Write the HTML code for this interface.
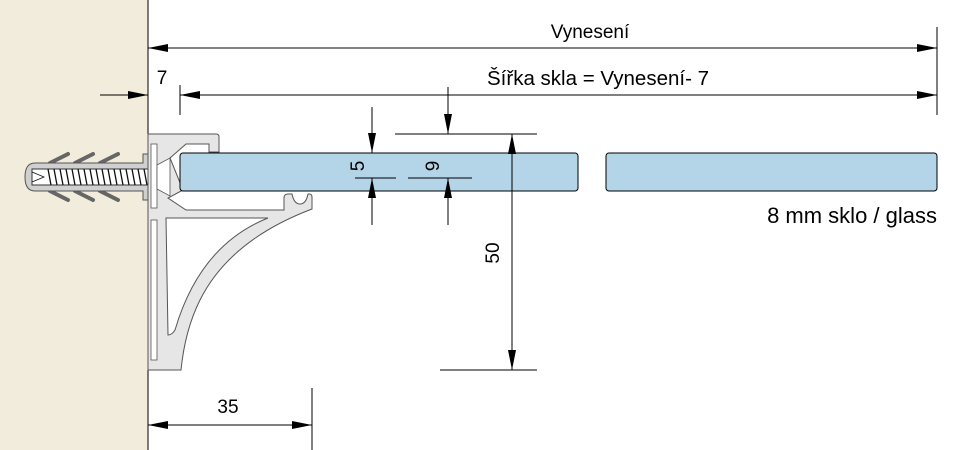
<!DOCTYPE html>
<html><head><meta charset="utf-8"><style>
html,body{margin:0;padding:0;background:#fff}
svg{display:block}
text{font-family:"Liberation Sans","DejaVu Sans",sans-serif;fill:#000}
</style></head><body>
<svg width="970" height="450" viewBox="0 0 970 450" xmlns="http://www.w3.org/2000/svg">
<defs>
<marker id="b" viewBox="0 0 20 8" refX="20" refY="4" markerWidth="20" markerHeight="8" markerUnits="userSpaceOnUse" orient="auto-start-reverse">
<path d="M0,0 L20,4 L0,8 z" fill="#000"/></marker>
</defs>
<rect x="0" y="0" width="148" height="450" fill="#f2ecdc"/>
<line x1="148" y1="0" x2="148" y2="450" stroke="#000" stroke-width="1"/>

<!-- anchor -->
<g stroke="#555" stroke-width="1" fill="#d0d0d0">
<path d="M50,163 L68,154 M75,163 L93,154 M100,163 L118,154 M50,191 L68,200 M75,191 L93,200 M100,191 L118,200" stroke="#666" stroke-width="4" stroke-linecap="round" fill="none"/>
<path d="M35,163 H143 V154 H150 V200 H143 V191 H35 Q25,191 25,177 Q25,163 35,163 Z"/>
<rect x="32" y="169" width="128" height="16" fill="#fff" stroke="#333"/>
</g>
<g stroke="#111" stroke-width="1.3">
<path d="M48,169 l3,16 M54,169 l3,16 M60,169 l3,16 M66,169 l3,16 M72,169 l3,16 M78,169 l3,16 M84,169 l3,16 M90,169 l3,16 M96,169 l3,16 M102,169 l3,16 M108,169 l3,16 M114,169 l3,16 M120,169 l3,16 M126,169 l3,16 M132,169 l3,16 M138,169 l3,16 M144,169 l3,16 M150,169 l3,16"/>
<path d="M32,172 L44,177 L32,182" fill="none" stroke-width="0.8"/>
</g>

<!-- bracket -->
<path fill-rule="evenodd" fill="#e6e6e6" stroke="#555" stroke-width="1"
d="M148,134 H216 Q219,134 219,137 V152 H209 V144 H186 L170,158 L183,190 L168,198 L186,210 H284 V198 Q284,194 288,194 H292 Q294,204 300,204 Q306,204 308,194 H309 Q312,194 312,197 V209 Q230,240 200,300 Q185,330 181,370 H148 Z
M166,218 H268 Q200,245 175,330 Q172,335 168,335 Z"/>
<rect x="151" y="144" width="6" height="64" fill="#fff" stroke="#555" stroke-width="0.8"/>
<rect x="151" y="220" width="6" height="140" fill="#fff" stroke="#555" stroke-width="0.8"/>
<path d="M157,165 L170,158 L170,196 L157,189 Z" fill="#fff" stroke="#555" stroke-width="0.8"/>

<!-- glass -->
<rect x="180" y="153" width="398" height="38" rx="3" fill="#b4d5e8" stroke="#000" stroke-width="1"/>
<rect x="606" y="153" width="331" height="38" rx="3" fill="#b4d5e8" stroke="#000" stroke-width="1"/>

<!-- dimensions -->
<g stroke="#000" stroke-width="1" fill="none">
<line x1="937" y1="27" x2="937" y2="115"/>
<line x1="148" y1="48" x2="937" y2="48" marker-start="url(#b)" marker-end="url(#b)"/>
<line x1="180" y1="85" x2="180" y2="115"/>
<line x1="180" y1="95" x2="937" y2="95" marker-start="url(#b)" marker-end="url(#b)"/>
<line x1="100" y1="95" x2="148" y2="95" marker-end="url(#b)"/>
<line x1="372" y1="107" x2="372" y2="153" marker-end="url(#b)"/>
<line x1="372" y1="225" x2="372" y2="178" marker-end="url(#b)"/>
<line x1="355" y1="178" x2="396" y2="178"/>
<line x1="448" y1="87" x2="448" y2="134" marker-end="url(#b)"/>
<line x1="448" y1="225" x2="448" y2="178" marker-end="url(#b)"/>
<line x1="408" y1="178" x2="472" y2="178"/>
<line x1="395" y1="134" x2="537" y2="134"/>
<line x1="512" y1="134" x2="512" y2="370" marker-start="url(#b)" marker-end="url(#b)"/>
<line x1="440" y1="370" x2="537" y2="370"/>
<line x1="312" y1="388" x2="312" y2="450"/>
<line x1="148" y1="425" x2="312" y2="425" marker-start="url(#b)" marker-end="url(#b)"/>
</g>
<text x="590" y="38" font-size="19" text-anchor="middle">Vynesení</text>
<text x="598" y="85" font-size="20.5" text-anchor="middle">Šířka skla = Vynesení- 7</text>
<text x="162" y="84" font-size="19" text-anchor="middle">7</text>
<text x="228" y="413" font-size="19" text-anchor="middle">35</text>
<text x="937" y="223" font-size="22" text-anchor="end">8 mm sklo / glass</text>
<text font-size="19" text-anchor="middle" transform="translate(364,166) rotate(-90)">5</text>
<text font-size="19" text-anchor="middle" transform="translate(439,166) rotate(-90)">9</text>
<text font-size="19" text-anchor="middle" transform="translate(499,253) rotate(-90)">50</text>
</svg>
</body></html>
